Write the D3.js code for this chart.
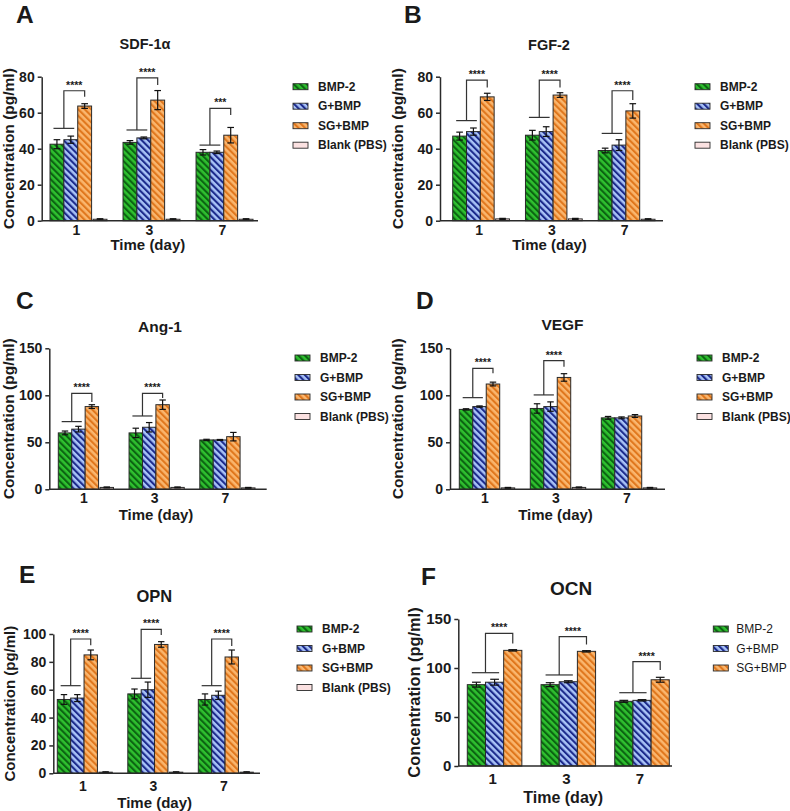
<!DOCTYPE html>
<html><head><meta charset="utf-8">
<script src="https://cdn.jsdelivr.net/npm/d3@7"></script>
<style>body{margin:0;background:#fff} svg{display:block} text{font-family:"Liberation Sans",Arial,sans-serif;fill:#1a1a1a}</style>
</head><body><svg id="c" width="790" height="811"></svg>
<script>
const days = ["1","3","7"];
const seriesNames = ["BMP-2","G+BMP","SG+BMP","Blank (PBS)"];

// SDF-1α
const sdfMean = [[42.5,43.5,38],[45,46,38],[63.7,67,47.5],[0.8,0.8,0.8]];
const sdfErr  = [[2.5,1,1.5],[2,0.5,0.7],[1.3,5.3,4.3],[0.3,0.3,0.3]];
const sdfSig  = ["****","****","***"];
const sdfBrk  = [[51.3,72.2,68.9],[50.4,79.4,75.4],[42,62.4,58.7]];
// FGF-2
const fgfMean = [[47,47.5,39],[49.5,49.5,42],[68.8,69.8,61],[1,1,0.8]];
const fgfErr  = [[2.2,2.7,1.3],[2,2.7,3],[2,1.3,4],[0.3,0.3,0.3]];
const fgfSig  = ["****","****","****"];
const fgfBrk  = [[55.6,78.1,74],[57.4,78.1,74],[48.5,72.2,67]];
// Ang-1
const angMean = [[60,60,52.5],[64,66,52.5],[88,90,56],[2,2,1.5]];
const angErr  = [[2,5,0.7],[3,5,0.5],[2,5,4.5],[0.5,0.5,0.5]];
const angSig  = ["****","****"];
const angBrk  = [[72,102,93],[78,102,97]];
// VEGF
const vegfMean = [[85,86,76],[88,88,76],[112,119,78],[1.5,2,1.5]];
const vegfErr  = [[0.7,5,1.5],[0.7,5,1],[2,4,1.5],[0.5,0.5,0.5]];
const vegfSig  = ["****","****"];
const vegfBrk  = [[97.5,128.7,123.4],[100.4,136.9,130.5]];
// OPN
const opnMean = [[53,57,53],[54,60,56],[85,92.5,83.5],[0.8,0.8,0.8]];
const opnErr  = [[3.5,3.5,4],[2.5,5.5,3],[3.5,2,5],[0.3,0.3,0.3]];
const opnSig  = ["****","****","****"];
const opnBrk  = [[62.9,96.4,92],[68.2,103.3,99.3],[62.9,96.4,91.4]];
// OCN
const ocnMean = [[83,83,66],[85.5,86,67],[118,117,88]];
const ocnErr  = [[2.5,2,1],[3,1,0.7],[0.7,0.7,2.5]];
const ocnSig  = ["****","****","****"];
const ocnBrk  = [[95.2,135.4,125],[92.9,132,124],[74.8,106.5,98]];

const ticks80 = [0,20,40,60,80];
const ticks150 = [0,50,100,150];
const ticks100 = [0,20,40,60,80,100];

const panels = [
 {letter:"A",lx:16,ly:23,title:"SDF-1α",tx:145,ty:49,ts:14.5,mean:sdfMean,err:sdfErr,sig:sdfSig,brk:sdfBrk,yMax:80,yTicks:ticks80,yPx:[220.7,76.7],axisX:[41.7,258],groupX:[50,253],pad:0.22,tickFs:14,tickDy:9,ylx:9,ylFs:15.5,timeY:245,timeFs:15,leg:{x:293,y:86.7,bold:true,fs:12}},
 {letter:"B",lx:404,ly:23,title:"FGF-2",tx:549,ty:50,ts:14.5,mean:fgfMean,err:fgfErr,sig:fgfSig,brk:fgfBrk,yMax:80,yTicks:ticks80,yPx:[220.7,76.7],axisX:[440,663],groupX:[452.7,655],pad:0.22,tickFs:14,tickDy:9,ylx:398,ylFs:15.5,timeY:245,timeFs:15,leg:{x:695,y:86.7,bold:true,fs:12}},
 {letter:"C",lx:16,ly:308.5,title:"Ang-1",tx:160,ty:331.7,ts:15.5,mean:angMean,err:angErr,sig:angSig,brk:angBrk,yMax:150,yTicks:ticks150,yPx:[489.3,348.3],axisX:[49.3,266.7],groupX:[58.3,255],pad:0.22,tickFs:14,tickDy:8.5,ylx:9,ylFs:15.5,timeY:515,timeFs:15,leg:{x:295,y:358,bold:true,fs:12}},
 {letter:"D",lx:416,ly:309,title:"VEGF",tx:562.5,ty:330,ts:15.5,mean:vegfMean,err:vegfErr,sig:vegfSig,brk:vegfBrk,yMax:150,yTicks:ticks150,yPx:[489.3,348.3],axisX:[450,665],groupX:[459.3,656.7],pad:0.22,tickFs:14,tickDy:8.5,ylx:398,ylFs:15.5,timeY:515,timeFs:15,leg:{x:697,y:358,bold:true,fs:12}},
 {letter:"E",lx:19,ly:583.3,title:"OPN",tx:154.3,ty:601.7,ts:16.5,mean:opnMean,err:opnErr,sig:opnSig,brk:opnBrk,yMax:100,yTicks:ticks100,yPx:[773.3,634],axisX:[53.3,260],groupX:[57.3,253.3],pad:0.22,tickFs:14,tickDy:12.5,ylx:10,ylFs:15,timeY:802.5,timeFs:15,leg:{x:297,y:629,bold:true,fs:12}},
 {letter:"F",lx:421,ly:585,title:"OCN",tx:571,ty:595,ts:19,mean:ocnMean,err:ocnErr,sig:ocnSig,brk:ocnBrk,yMax:150,yTicks:ticks150,yPx:[766,619],axisX:[458.3,672],groupX:[467.3,669.3],pad:0.26,tickFs:15,tickDy:13,ylx:414,ylFs:16.4,timeY:797,timeFs:16,leg:{x:713.3,y:629,bold:false,fs:12}}
];

const svg = d3.select("#c");
svg.append("rect").attr("width",790).attr("height",811).attr("fill","#fff");
const defs = svg.append("defs");
const fills = [
 {id:"pg", base:"#2fc02f", stripe:"#0c6412"},
 {id:"pb", base:"#a9c3f7", stripe:"#1c2a8c"},
 {id:"po", base:"#fab66e", stripe:"#e0771d"}
];
fills.forEach(f=>{
 const p = defs.append("pattern").attr("id",f.id).attr("patternUnits","userSpaceOnUse")
   .attr("width",4.6).attr("height",4.6).attr("patternTransform","rotate(-45)");
 p.append("rect").attr("width",4.6).attr("height",4.6).attr("fill",f.base);
 p.append("rect").attr("width",2.1).attr("height",4.6).attr("fill",f.stripe);
});
const seriesFill = ["url(#pg)","url(#pb)","url(#po)","#fbe1e1"];
const ink = "#2a2a2a";

function drawPanel(c){
 const g = svg.append("g");
 const y = d3.scaleLinear().domain([0,c.yMax]).range(c.yPx);
 const xg = d3.scaleBand().domain(days).range(c.groupX).paddingInner(c.pad);
 const nS = c.mean.length;
 const gap = nS===4 ? 1.5 : 0;
 const bw = (xg.bandwidth()-gap)/nS;
 const bx = (d,i)=> xg(d) + i*bw + (i===3?gap:0);

 g.append("text").attr("x",c.lx).attr("y",c.ly).attr("font-size",24.5).attr("font-weight","bold").text(c.letter);
 g.append("text").attr("x",c.tx).attr("y",c.ty).attr("text-anchor","middle").attr("font-size",c.ts).attr("font-weight","bold").text(c.title);

 const barData = [];
 c.mean.forEach((vals,i)=>vals.forEach((v,j)=>barData.push({i,d:days[j],v,e:c.err[i][j]})));
 g.selectAll("rect.bar").data(barData).enter().append("rect").attr("class","bar")
  .attr("x",b=>bx(b.d,b.i)).attr("y",b=>y(b.v)).attr("width",bw).attr("height",b=>y(0)-y(b.v))
  .attr("fill",b=>seriesFill[b.i]).attr("stroke",ink).attr("stroke-width",1);

 const cap = bw*0.48;
 barData.forEach(b=>{
  const cx = bx(b.d,b.i)+bw/2;
  const t = y(b.v+b.e), bt = y(Math.max(0,b.v-b.e));
  g.append("line").attr("x1",cx).attr("x2",cx).attr("y1",t).attr("y2",bt).attr("stroke","#111").attr("stroke-width",1.2);
  [t,bt].forEach(yy=>g.append("line").attr("x1",cx-cap/2).attr("x2",cx+cap/2).attr("y1",yy).attr("y2",yy).attr("stroke","#111").attr("stroke-width",1.2));
 });

 const ax = g.append("g").attr("transform",`translate(${c.axisX[0]},0)`)
   .call(d3.axisLeft(y).tickValues(c.yTicks).tickSize(4).tickSizeOuter(0).tickPadding(3));
 ax.select(".domain").attr("stroke",ink).attr("stroke-width",1.5);
 ax.selectAll(".tick line").attr("stroke",ink).attr("stroke-width",1.5);
 ax.selectAll(".tick text").attr("font-size",c.tickFs).attr("font-weight","bold")
   .attr("font-family",'"Liberation Sans",Arial,sans-serif').attr("fill","#1a1a1a");
 g.append("line").attr("x1",c.axisX[0]).attr("x2",c.axisX[1]).attr("y1",y(0)).attr("y2",y(0)).attr("stroke",ink).attr("stroke-width",1.5);
 days.forEach(d=>{
  g.append("text").attr("x",xg(d)+xg.bandwidth()/2-2).attr("y",y(0)+c.tickDy).attr("dy","0.35em")
   .attr("text-anchor","middle").attr("font-size",c.tickFs).attr("font-weight","bold").text(d);
 });
 const cxm = (c.axisX[0]+c.axisX[1])/2 - 2;
 g.append("text").attr("x",cxm).attr("y",c.timeY).attr("dy","0.35em").attr("text-anchor","middle")
  .attr("font-size",c.timeFs).attr("font-weight","bold").text("Time (day)");
 const cy = (c.yPx[0]+c.yPx[1])/2;
 g.append("text").attr("transform",`translate(${c.ylx},${cy}) rotate(-90)`).attr("dy","0.35em")
  .attr("text-anchor","middle").attr("font-size",c.ylFs).attr("font-weight","bold").text("Concentration (pg/ml)");

 c.brk.forEach((br,j)=>{
  const d = days[j], x0 = xg(d);
  const l1 = x0+0.25*bw, l2 = x0+1.75*bw, xm = x0+bw, xr = x0+2.5*bw;
  const [yl,yt,yr] = br.map(v=>y(v));
  g.append("line").attr("x1",l1).attr("x2",l2).attr("y1",yl).attr("y2",yl).attr("stroke","#333").attr("stroke-width",1.2);
  g.append("path").attr("d",`M${xm},${yl}V${yt}H${xr}V${yr}`).attr("fill","none").attr("stroke","#333").attr("stroke-width",1.2);
  g.append("text").attr("x",(xm+xr)/2).attr("y",yt-2).attr("text-anchor","middle").attr("font-size",10.5)
   .attr("font-weight","bold").attr("fill","#333").text(c.sig[j]);
 });

 const L = c.leg;
 for(let i=0;i<nS;i++){
  const ry = L.y + i*19.5;
  g.append("rect").attr("x",L.x).attr("y",ry-3).attr("width",15).attr("height",6)
   .attr("fill",seriesFill[i]).attr("stroke",ink).attr("stroke-width",0.9);
  g.append("text").attr("x",L.x+(L.bold?25:23)).attr("y",ry).attr("dy","0.35em").attr("font-size",L.fs)
   .attr("font-weight",L.bold?"bold":"normal").text(seriesNames[i]);
 }
}
panels.forEach(drawPanel);
</script>
</body></html>
